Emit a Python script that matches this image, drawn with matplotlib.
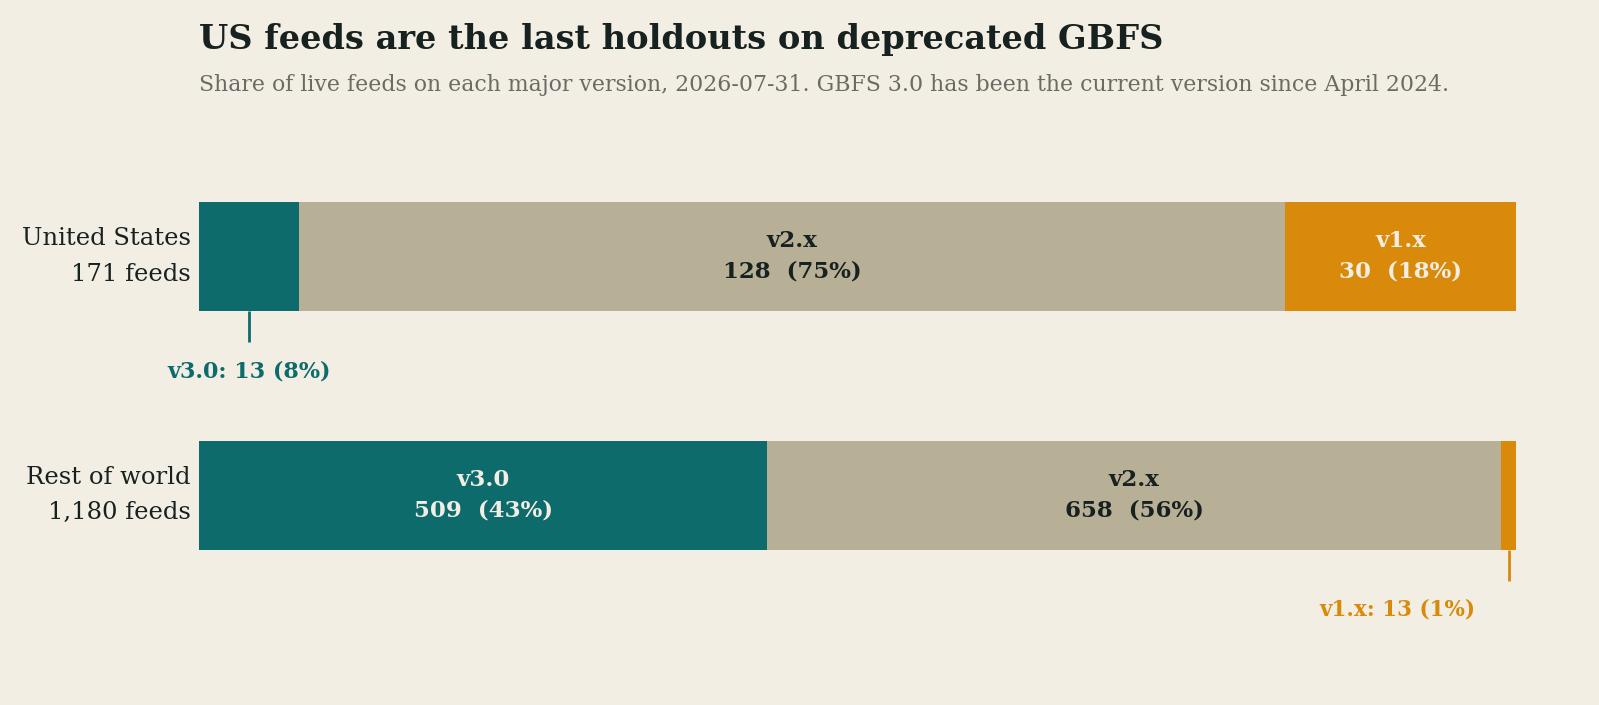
import numpy as np
import matplotlib.pyplot as plt

# data
regions = ["United States", "Rest of world"]
versions = ["v3.0", "v2.x", "v1.x"]
us_counts = [13, 128, 30]
row_counts = [509, 658, 13]

BG = "#f2eee4"
INK = "#17211f"
colors = {"v3.0": "#0d6b6b", "v2.x": "#b8af97", "v1.x": "#d98a0b"}
label_color = {"v3.0": "#f2eee4", "v2.x": INK, "v1.x": "#f2eee4"}

plt.rcParams["font.family"] = ["DejaVu Serif"]

W, H = 1599, 705
fig = plt.figure(figsize=(W / 100, H / 100), dpi=100, facecolor=BG)
ax = fig.add_axes([199 / W, (H - 640) / H, 1317 / W, 500 / H])
ax.set_facecolor(BG)
ax.set_xlim(0, 1)
ax.set_ylim(1 + 145 / 238.5, -116.5 / 238.5)
ax.axis("off")

bar_h = 109 / 238.5
all_counts = [us_counts, row_counts]

for i, (region, counts) in enumerate(zip(regions, all_counts)):
    total = sum(counts)
    left = 0.0
    for v, c in zip(versions, counts):
        share = c / total
        ax.barh(i, share, left=left, height=bar_h, color=colors[v], linewidth=0)
        mid = left + share / 2
        pct = round(100 * share)
        if share > 0.12:
            ax.text(mid, i, f"{v}\n{c}  ({pct}%)", ha="center", va="center",
                    fontsize=16.5, fontweight="bold", color=label_color[v],
                    linespacing=1.5)
        else:
            # small segment: callout below the bar
            y0 = i + bar_h / 2
            y1 = y0 + 31 / 238.5
            ax.plot([mid, mid], [y0, y1], color=colors[v], lw=2,
                    solid_capstyle="butt")
            if mid < 0.5:
                ax.annotate(f"{v}: {c} ({pct}%)", (mid, y1), xytext=(0, -13),
                            textcoords="offset points", ha="center", va="top",
                            fontsize=16, fontweight="bold", color=colors[v])
            else:
                ax.annotate(f"{v}: {c} ({pct}%)", (mid, y1), xytext=(-24, -13),
                            textcoords="offset points", ha="right", va="top",
                            fontsize=15.5, fontweight="bold", color=colors[v])
        left += share
    ax.text(-8 / 1317, i, f"{region}\n{total:,} feeds", ha="right", va="center",
            fontsize=17.5, color=INK, linespacing=1.7)

fig.text(199 / W, 1 - 40 / H, "US feeds are the last holdouts on deprecated GBFS",
         ha="left", va="center", fontsize=24.2, fontweight="bold", color=INK)
fig.text(199 / W, 1 - 85 / H,
         "Share of live feeds on each major version, 2026-07-31. "
         "GBFS 3.0 has been the current version since April 2024.",
         ha="left", va="center", fontsize=15.8, color="#6b6b66")

fig.savefig("out.png", dpi=100, facecolor=BG)
